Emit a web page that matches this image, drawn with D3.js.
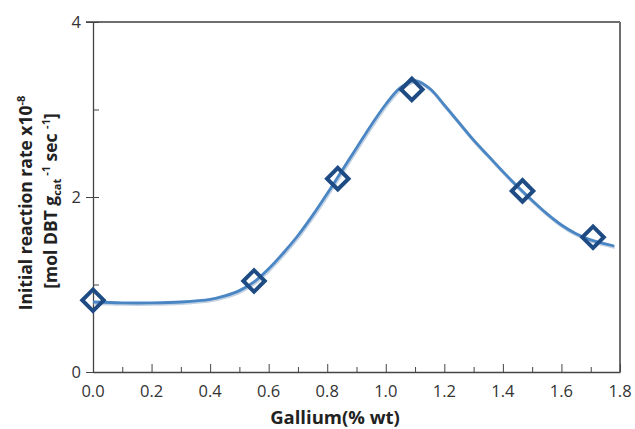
<!DOCTYPE html>
<html>
<head>
<meta charset="utf-8">
<script src="https://d3js.org/d3.v7.min.js"></script>
<style>
  body { margin: 0; background: #fff; }
  text { font-family: "Open Sans", sans-serif; }
</style>
</head>
<body>
<div id="chart"></div>
<script>
// measured points
var galliumPts = [0.0, 0.55, 0.836, 1.089, 1.467, 1.708];
var ratePts = [0.82, 1.04, 2.21, 3.23, 2.07, 1.54];

// fitted curve
var curveX = [0.0, 0.1, 0.2, 0.3, 0.4, 0.45, 0.5, 0.55, 0.6, 0.65, 0.7, 0.75, 0.8, 0.85, 0.9, 0.95, 1.0, 1.05, 1.1, 1.15, 1.2, 1.25, 1.3, 1.35, 1.4, 1.45, 1.5, 1.55, 1.6, 1.65, 1.7, 1.78];
var curveY = [0.80, 0.79, 0.79, 0.80, 0.83, 0.87, 0.93, 1.03, 1.18, 1.36, 1.56, 1.79, 2.04, 2.30, 2.56, 2.82, 3.06, 3.25, 3.33, 3.24, 3.05, 2.85, 2.65, 2.47, 2.29, 2.12, 1.96, 1.81, 1.68, 1.58, 1.51, 1.44];

var xTicks = [0, 0.2, 0.4, 0.6, 0.8, 1.0, 1.2, 1.4, 1.6, 1.8];
var yTicks = [0, 2, 4];

var width = 635, height = 429;
var margin = {top: 22, right: 15, bottom: 57, left: 93};

var svg = d3.select("#chart").append("svg")
    .attr("width", width)
    .attr("height", height);

var x = d3.scaleLinear().domain([0, 1.8]).range([margin.left, width - margin.right]);
var y = d3.scaleLinear().domain([0, 4]).range([height - margin.bottom, margin.top]);

// frame top / right
svg.append("line")
    .attr("x1", x(0) - 7).attr("x2", x(1.8))
    .attr("y1", y(4)).attr("y2", y(4))
    .attr("stroke", "#6e6e6e").attr("stroke-width", 2);
svg.append("line")
    .attr("x1", x(1.8)).attr("x2", x(1.8))
    .attr("y1", y(4)).attr("y2", y(0))
    .attr("stroke", "#6e6e6e").attr("stroke-width", 2);

// x axis
var xAxis = svg.append("g")
    .attr("transform", "translate(0," + y(0) + ")");
xAxis.call(d3.axisBottom(x).tickValues(d3.range(0, 19).map(function(i) { return i / 10; }))
    .tickSize(0).tickFormat(""));
xAxis.selectAll(".tick line")
    .attr("y2", function(d) { return Math.round(d * 10) % 2 == 0 ? -8 : -5; })
    .attr("stroke", "#444");
xAxis.select(".domain").attr("stroke", "#444").attr("stroke-width", 1.3);
svg.append("g").selectAll("text")
    .data(xTicks)
    .enter().append("text")
    .attr("x", function(d) { return x(d); })
    .attr("y", y(0) + 25)
    .attr("text-anchor", "middle")
    .style("font-size", "16.5px")
    .attr("fill", "#333")
    .text(function(d) { return d.toFixed(1); });

// y axis
var yAxis = svg.append("g")
    .attr("transform", "translate(" + x(0) + ",0)");
yAxis.call(d3.axisLeft(y).tickValues([0, 1, 2, 3, 4]).tickSize(0).tickFormat(""));
yAxis.selectAll(".tick line")
    .attr("x1", function(d) { return d % 2 == 0 ? -7 : 0; })
    .attr("x2", 6)
    .attr("stroke", "#444");
yAxis.select(".domain").attr("stroke", "#444").attr("stroke-width", 1.3);
svg.append("g").selectAll("text")
    .data(yTicks)
    .enter().append("text")
    .attr("x", x(0) - 12)
    .attr("y", function(d) { return y(d) + 6; })
    .attr("text-anchor", "end")
    .style("font-size", "16.5px")
    .attr("fill", "#333")
    .text(function(d) { return d; });

// curve
var line = d3.line()
    .x(function(d) { return x(d[0]); })
    .y(function(d) { return y(d[1]); })
    .curve(d3.curveCatmullRom.alpha(0.5));
var curveData = curveX.map(function(d, i) { return [d, curveY[i]]; });
svg.append("path")
    .datum(curveData)
    .attr("fill", "none")
    .attr("stroke", "#c3d2e2")
    .attr("stroke-width", 3.5)
    .attr("transform", "translate(0.8,1.2)")
    .attr("d", line);
svg.append("path")
    .datum(curveData)
    .attr("fill", "none")
    .attr("stroke", "#4a85c4")
    .attr("stroke-width", 2.8)
    .attr("d", line);

// markers
var diamond = d3.symbol().type(d3.symbolSquare).size(230);
svg.selectAll(".pt")
    .data(galliumPts)
    .enter().append("path")
    .attr("class", "pt")
    .attr("d", diamond)
    .attr("transform", function(d, i) { return "translate(" + x(d) + "," + y(ratePts[i]) + ") rotate(45)"; })
    .attr("fill", "none")
    .attr("stroke", "#1f4b84")
    .attr("stroke-width", 4);

// axis titles
svg.append("text")
    .attr("x", 335)
    .attr("y", 424)
    .attr("text-anchor", "middle")
    .style("font-size", "18.5px")
    .style("font-weight", "bold")
    .attr("fill", "#222")
    .text("Gallium(% wt)");

var t1 = svg.append("text")
    .attr("transform", "translate(32,203) rotate(-90)")
    .attr("text-anchor", "middle")
    .style("font-size", "17.5px")
    .style("font-weight", "bold")
    .attr("fill", "#222");
t1.append("tspan").text("Initial reaction rate x10");
t1.append("tspan").attr("dy", -7).style("font-size", "11px").text("-8");

var t2 = svg.append("text")
    .attr("transform", "translate(57,201) rotate(-90)")
    .attr("text-anchor", "middle")
    .style("font-size", "17.5px")
    .style("font-weight", "bold")
    .attr("fill", "#222");
t2.append("tspan").text("[mol DBT g");
t2.append("tspan").attr("dy", 4).style("font-size", "11px").text("cat");
t2.append("tspan").attr("dy", -11).style("font-size", "11px").text(" -1");
t2.append("tspan").attr("dy", 7).text(" sec ");
t2.append("tspan").attr("dy", -7).style("font-size", "11px").text("-1");
t2.append("tspan").attr("dy", 7).text("]");
</script>
</body>
</html>
